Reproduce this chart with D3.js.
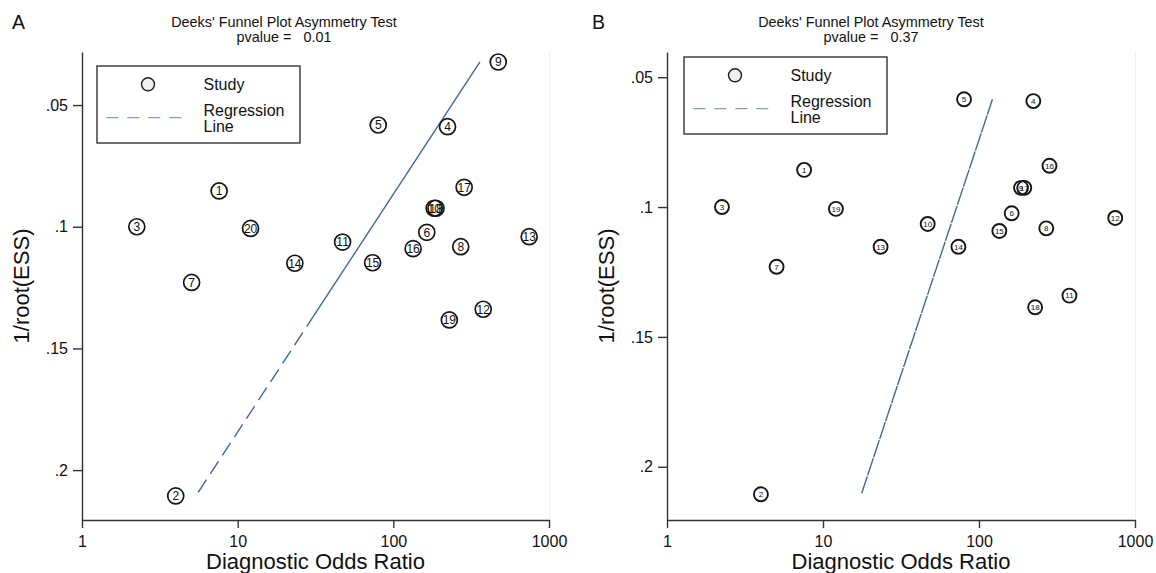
<!DOCTYPE html>
<html>
<head>
<meta charset="utf-8">
<script src="https://cdn.jsdelivr.net/npm/d3@7"></script>
<style>
  body { margin: 0; background: #fff; }
  text { font-family: "Liberation Sans", Arial, sans-serif; fill: #111; }
</style>
</head>
<body>
<svg id="chart" width="1156" height="573"></svg>
<script>
// panel A: 20 studies
const studyA = [1, 2, 3, 4, 5, 6, 7, 8, 9, 10, 11, 12, 13, 14, 15, 16, 17, 18, 19, 20];
const dorA = [7.6, 4.0, 2.25, 223, 80, 164, 5.06, 271, 472, 183, 47.2, 378, 746, 23.3, 73.6, 134, 285, 188, 229, 12.1];
const essA = [0.0853, 0.2106, 0.1, 0.0589, 0.0582, 0.1023, 0.1229, 0.1082, 0.0323, 0.0924, 0.1063, 0.1339, 0.1041, 0.115, 0.1148, 0.109, 0.0838, 0.0924, 0.1383, 0.1007];
const regDorA = [5.58, 360];
const regEssA = [0.2091, 0.0323];
const pvalueA = "0.01";

// panel B: 19 studies
const studyB = [1, 2, 3, 4, 5, 6, 7, 8, 9, 10, 11, 12, 13, 14, 15, 16, 17, 18, 19];
const dorB = [7.57, 4.0, 2.25, 223, 80.2, 162, 5.04, 270, 186, 46.9, 380, 747, 23.4, 73.8, 135, 283, 195, 229, 12.1];
const essB = [0.0857, 0.2106, 0.1, 0.0592, 0.0585, 0.1024, 0.123, 0.1082, 0.0926, 0.1065, 0.1341, 0.1042, 0.1153, 0.1153, 0.1092, 0.0841, 0.0926, 0.1386, 0.1007];
const regDorB = [17.7, 122];
const regEssB = [0.2102, 0.0585];
const pvalueB = "0.37";

const xTicks = [1, 10, 100, 1000];
const yTicks = [0.05, 0.1, 0.15, 0.2];

const svg = d3.select("#chart");

const panels = [
  { tag: "A", tagX: 12, titleX: 284, p: pvalueA, study: studyA, dor: dorA, ess: essA,
    regDor: regDorA, regEss: regEssA, dashTo: 0.1383, dash: "15,7",
    left: 82, right: 549, yTop: 0.0282, r: 8, fs: 12, sw: 1.7, legend: [97, 66] },
  { tag: "B", tagX: 592, titleX: 871, p: pvalueB, study: studyB, dor: dorB, ess: essB,
    regDor: regDorB, regEss: regEssB, dashTo: null, dash: "18,1",
    left: 667, right: 1135, yTop: 0.0403, r: 7, fs: 8, sw: 1.9, legend: [684, 57] }
];

const plotTop = 52, plotBottom = 520;

panels.forEach(drawPanel);

function drawPanel(cfg) {
  const g = svg.append("g");

  const x = d3.scaleLog().domain([1, 1000]).range([cfg.left, cfg.right]);
  const y = d3.scaleLinear().domain([cfg.yTop, 0.2205]).range([plotTop, plotBottom]);

  // faint plot region edge
  g.append("line")
    .attr("x1", cfg.right + 0.5).attr("x2", cfg.right + 0.5)
    .attr("y1", plotTop).attr("y2", plotBottom)
    .attr("stroke", "#f0f0f0");

  // panel letter + title
  g.append("text").attr("x", cfg.tagX).attr("y", 29)
    .style("font-size", "19.5px").text(cfg.tag);
  g.append("text").attr("x", cfg.titleX).attr("y", 27)
    .attr("text-anchor", "middle").style("font-size", "14.4px")
    .text("Deeks' Funnel Plot Asymmetry Test");
  g.append("text").attr("x", cfg.titleX).attr("y", 42)
    .attr("text-anchor", "middle").style("font-size", "14.4px")
    .style("white-space", "pre")
    .text("pvalue =   " + cfg.p);

  // axes
  const xAxis = g.append("g")
    .attr("transform", `translate(0,${plotBottom})`)
    .call(d3.axisBottom(x).tickValues(xTicks).tickFormat(d3.format("d"))
      .tickSize(8).tickSizeOuter(0).tickPadding(7.5));
  const yAxis = g.append("g")
    .attr("transform", `translate(${cfg.left},0)`)
    .call(d3.axisLeft(y).tickValues(yTicks).tickFormat(d => d3.format(".2~f")(d).replace(/^0/, ""))
      .tickSize(9).tickSizeOuter(0).tickPadding(5));
  [xAxis, yAxis].forEach(a => {
    a.select(".domain").attr("stroke", "#333").attr("stroke-width", 1.4);
    a.selectAll(".tick line").attr("stroke", "#333").attr("stroke-width", 1.4);
    a.selectAll(".tick text").style("font-size", "16px").attr("fill", "#111")
      .style("font-family", '"Liberation Sans", Arial, sans-serif');
  });

  g.append("text")
    .attr("x", (cfg.left + cfg.right) / 2).attr("y", 569)
    .attr("text-anchor", "middle").style("font-size", "22px")
    .text("Diagnostic Odds Ratio");
  g.append("text")
    .attr("transform", `translate(${cfg.left - 53},${(plotTop + plotBottom) / 2}) rotate(-90)`)
    .attr("text-anchor", "middle").style("font-size", "22px")
    .text("1/root(ESS)");

  // regression line (log dor vs ess)
  const logAt = d3.scaleLinear().domain(cfg.regEss).range(cfg.regDor.map(Math.log10));
  const pt = e => [x(Math.pow(10, logAt(e))), y(e)];
  const lineCol = "#3d6a99";
  if (cfg.dashTo != null) {
    g.append("path")
      .attr("d", d3.line()([pt(cfg.regEss[0]), pt(cfg.dashTo)]))
      .attr("stroke", lineCol).attr("stroke-width", 1.4).attr("fill", "none")
      .attr("stroke-dasharray", cfg.dash);
    g.append("path")
      .attr("d", d3.line()([pt(cfg.dashTo), pt(cfg.regEss[1])]))
      .attr("stroke", lineCol).attr("stroke-width", 1.4).attr("fill", "none");
  } else {
    g.append("path")
      .attr("d", d3.line()([pt(cfg.regEss[0]), pt(cfg.regEss[1])]))
      .attr("stroke", lineCol).attr("stroke-width", 1.4).attr("fill", "none")
      .attr("stroke-dasharray", cfg.dash);
  }

  // studies
  const pts = cfg.study.map((s, i) => ({ s, dor: cfg.dor[i], ess: cfg.ess[i] }));
  const m = g.selectAll("g.study").data(pts).join("g").attr("class", "study")
    .attr("transform", d => `translate(${x(d.dor)},${y(d.ess)})`);
  m.append("circle").attr("r", cfg.r)
    .attr("fill", "none").attr("stroke", "#161616").attr("stroke-width", cfg.sw);
  m.append("text").attr("text-anchor", "middle").attr("dy", "0.36em")
    .style("font-size", cfg.fs + "px").text(d => d.s);

  // legend
  const [lx, ly] = cfg.legend;
  const lg = g.append("g").attr("transform", `translate(${lx},${ly})`);
  lg.append("rect").attr("width", 203).attr("height", 77)
    .attr("fill", "#fff").attr("stroke", "#333").attr("stroke-width", 1.4);
  lg.append("circle").attr("cx", 51).attr("cy", 18.3).attr("r", 6.5)
    .attr("fill", "#eee").attr("stroke", "#222").attr("stroke-width", 1.4);
  lg.append("line").attr("x1", 9.3).attr("x2", 93.3).attr("y1", 51.7).attr("y2", 51.7)
    .attr("stroke", "#7f9fc2").attr("stroke-width", 1.3).attr("stroke-dasharray", "12,9");
  lg.append("text").attr("x", 106.5).attr("y", 24).style("font-size", "16px").text("Study");
  lg.append("text").attr("x", 106.5).attr("y", 50).style("font-size", "16px").text("Regression");
  lg.append("text").attr("x", 106.5).attr("y", 65.5).style("font-size", "16px").text("Line");
}
</script>
</body>
</html>
